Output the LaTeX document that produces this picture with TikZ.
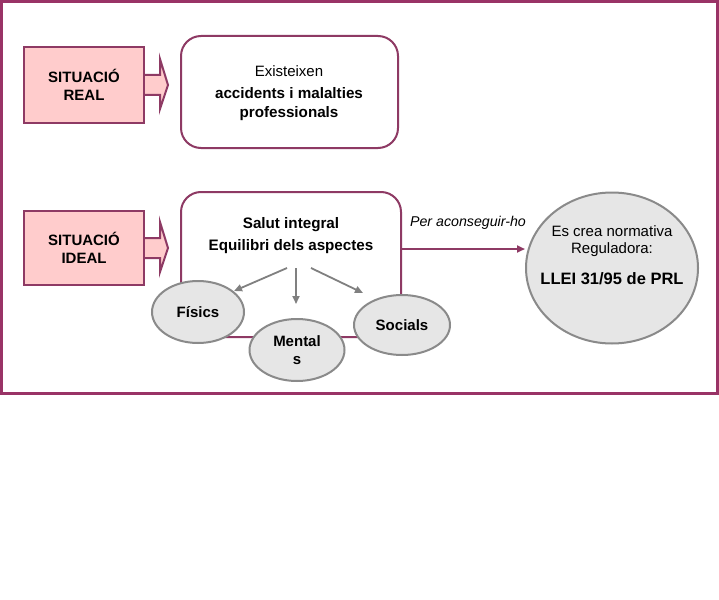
\documentclass[tikz,border=0pt]{standalone}
\usepackage{fontspec}
\setmainfont{Liberation Sans}
\usetikzlibrary{shapes.geometric,arrows.meta,calc}
\definecolor{frame}{HTML}{993366}
\definecolor{bord}{HTML}{8E3A64}
\definecolor{pinkf}{HTML}{FFCCCC}
\definecolor{ellf}{HTML}{E6E6E6}
\definecolor{ellb}{HTML}{8A8A8A}
\definecolor{garrow}{HTML}{808080}
\begin{document}
\begin{tikzpicture}[x=1pt,y=-1pt,
  sitbox/.style={draw=bord,fill=pinkf,line width=2pt,minimum width=120pt,minimum height=76pt,inner sep=0pt,align=center,font=\fontsize{15}{18}\selectfont\bfseries},
  roundbox/.style={draw=bord,fill=white,line width=2pt,rounded corners=20pt,inner sep=0pt},
  aspect/.style={ellipse,draw=ellb,fill=ellf,line width=2pt,inner sep=0pt,align=center,font=\fontsize{15}{18}\selectfont\bfseries},
  blockarrow/.style={draw=bord,fill=pinkf,line width=2pt,line join=miter},
  garr/.style={draw=garrow,line width=1.8pt,-{Triangle[length=8pt,width=7pt]}},
  txt/.style={font=\fontsize{15}{18}\selectfont},
  btxt/.style={font=\fontsize{15.2}{18}\selectfont\bfseries},
]
\useasboundingbox (0,0) rectangle (719,599);
\fill[white] (0,0) rectangle (719,599);
% frame
\draw[frame,line width=3pt] (1.5,1.5) rectangle (717.5,393);

% top row
\node[sitbox] (real) at (84,85) {SITUACIÓ\\REAL};
\draw[blockarrow] (real.east |- 0,75) -- (160,75) -- (160,59) -- (168,85) -- (160,109) -- (160,95) -- (real.east |- 0,95);
\node[roundbox,minimum width=217pt,minimum height=112pt] (exist) at (289.5,92) {};
\node[txt] (t1) at (289,71) {Existeixen};
\node[btxt] (t2) at (289,93) {accidents i malalties};
\node[btxt] (t3) at (289,114) {professionals};

% bottom row
\node[sitbox,minimum height=74pt] (ideal) at (84,248) {SITUACIÓ\\IDEAL};
\draw[blockarrow] (ideal.east |- 0,238) -- (160,238) -- (160,222) -- (168,248) -- (160,272) -- (160,258) -- (ideal.east |- 0,258);
\node[roundbox,minimum width=220pt,minimum height=145pt] (salut) at (291,264.5) {};
\node[btxt] (s1) at (291,225) {Salut integral};
\node[btxt] (s2) at (291,247) {Equilibri dels aspectes};

\node[aspect,minimum width=92pt,minimum height=62pt] (fis) at (198,312) {Físics};
\node[aspect,minimum width=95pt,minimum height=62pt] (men) at (297,350) {Mental\\s};
\node[aspect,minimum width=96pt,minimum height=60pt] (soc) at (402,325) {Socials};

\coordinate (g1) at (287,268);
\coordinate (g2) at (296,268);
\coordinate (g3) at (311,268);
\coordinate (e1) at (234,291);
\coordinate (e2) at (296,304);
\coordinate (e3) at (363,293);
\draw[garr] (g1) -- (e1);
\draw[garr] (g2) -- (e2);
\draw[garr] (g3) -- (e3);

\node[ellipse,draw=ellb,fill=ellf,line width=2pt,minimum width=172pt,minimum height=151pt,inner sep=0pt] (llei) at (612,268) {};
\node[txt] (l1) at (612,231) {Es crea normativa};
\node[txt] (l2) at (612,250) {Reguladora:};
\node[font=\fontsize{16.5}{20}\selectfont\bfseries] (l3) at (612,279) {LLEI 31/95 de PRL};

\coordinate (a0) at ([yshift=15.5pt]salut.east);
\draw[bord,line width=2pt,-{Triangle[length=8pt,width=7pt]}] (a0) -- (a0 -| llei.west);
\node[font=\fontsize{14.2}{17}\selectfont\itshape] (lab) at (468,223) {Per aconseguir-ho};
\end{tikzpicture}
\end{document}
